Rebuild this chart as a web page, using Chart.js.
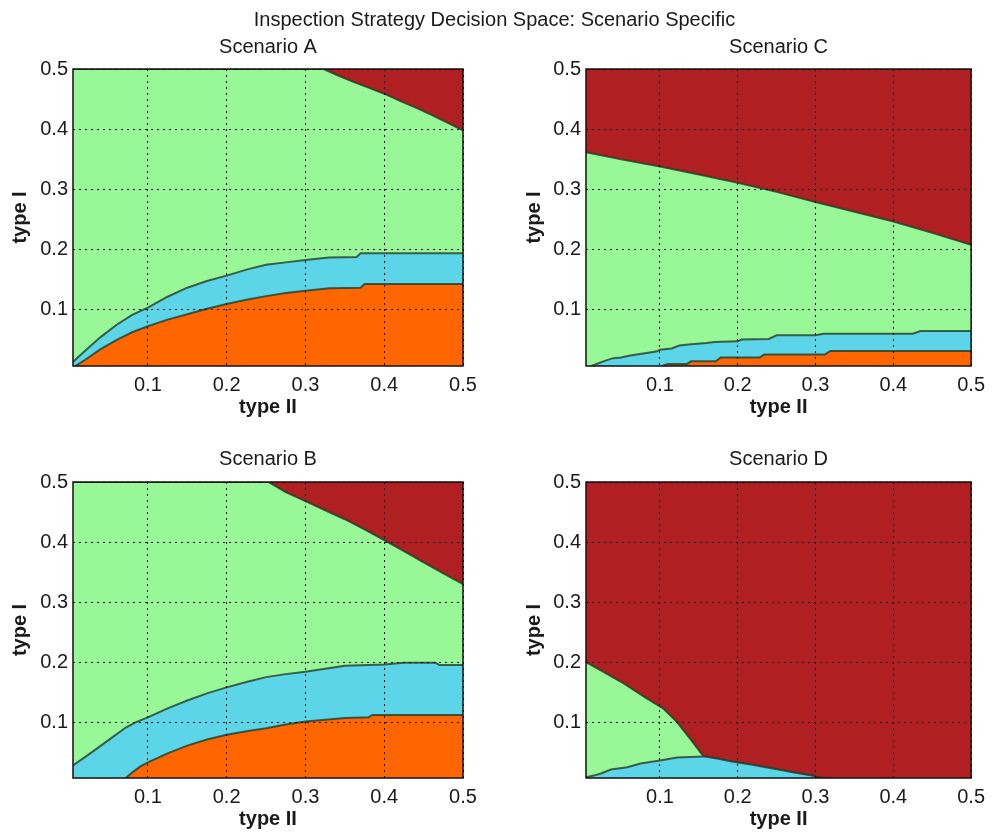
<!DOCTYPE html>
<html><head><meta charset="utf-8">
<script src="https://cdn.jsdelivr.net/npm/chart.js@4.4.1/dist/chart.umd.min.js"></script>
<style>
html,body{margin:0;padding:0;background:#fff;}
#wrap{position:relative;width:992px;height:833px;overflow:hidden;font-family:"Liberation Sans",Arial,sans-serif;}
canvas{position:absolute;}
#main{position:absolute;left:0;top:7px;width:989px;text-align:center;font-size:20px;line-height:24px;color:#1a1a1a;}
</style></head><body>
<div id="wrap">
<canvas id="cA" width="496" height="420" style="left:0;top:0"></canvas>
<canvas id="cC" width="496" height="420" style="left:496px;top:0"></canvas>
<canvas id="cB" width="496" height="420" style="left:0;top:413px"></canvas>
<canvas id="cD" width="496" height="420" style="left:496px;top:413px"></canvas>
<div id="main">Inspection Strategy Decision Space: Scenario Specific</div>
</div>
<script>
// ---- axis ticks ----
const X_TICKS = [0.1, 0.2, 0.3, 0.4, 0.5];
const Y_TICKS = [0.1, 0.2, 0.3, 0.4, 0.5];
const X_MIN = 0.005, X_MAX = 0.5, Y_MIN = 0.007, Y_MAX = 0.5;

// ---- Scenario A boundaries (upper edge of each region) ----
const A_GREEN_X = [0.005, 0.323, 0.34, 0.36, 0.38, 0.40, 0.42, 0.44, 0.46, 0.48, 0.50];
const A_GREEN_Y = [0.5, 0.5, 0.49, 0.479, 0.469, 0.459, 0.447, 0.436, 0.424, 0.411, 0.398];
const A_CYAN_X = [0.005, 0.01, 0.02, 0.04, 0.06, 0.08, 0.10, 0.125, 0.15, 0.175, 0.20, 0.225, 0.25, 0.275, 0.30, 0.33, 0.365, 0.37, 0.50];
const A_CYAN_Y = [0.014, 0.02, 0.032, 0.055, 0.075, 0.092, 0.104, 0.122, 0.137, 0.148, 0.157, 0.167, 0.175, 0.179, 0.183, 0.187, 0.188, 0.194, 0.194];
const A_ORANGE_X = [0.008, 0.02, 0.04, 0.06, 0.08, 0.10, 0.125, 0.15, 0.175, 0.20, 0.225, 0.25, 0.275, 0.30, 0.33, 0.37, 0.375, 0.50];
const A_ORANGE_Y = [0.007, 0.017, 0.035, 0.05, 0.063, 0.073, 0.084, 0.093, 0.102, 0.110, 0.117, 0.123, 0.128, 0.132, 0.136, 0.137, 0.143, 0.143];

// ---- Scenario B ----
const B_GREEN_X = [0.005, 0.253, 0.275, 0.30, 0.325, 0.35, 0.375, 0.40, 0.425, 0.45, 0.475, 0.50];
const B_GREEN_Y = [0.5, 0.5, 0.483, 0.468, 0.453, 0.438, 0.421, 0.403, 0.385, 0.366, 0.348, 0.33];
const B_CYAN_X = [0.005, 0.03, 0.05, 0.072, 0.085, 0.10, 0.125, 0.15, 0.175, 0.20, 0.225, 0.25, 0.275, 0.30, 0.325, 0.35, 0.40, 0.425, 0.465, 0.47, 0.50];
const B_CYAN_Y = [0.028, 0.051, 0.07, 0.091, 0.1, 0.108, 0.123, 0.136, 0.148, 0.158, 0.167, 0.175, 0.18, 0.184, 0.189, 0.194, 0.196, 0.199, 0.199, 0.195, 0.195];
const B_ORANGE_X = [0.072, 0.08, 0.09, 0.10, 0.125, 0.15, 0.175, 0.20, 0.225, 0.25, 0.275, 0.30, 0.325, 0.35, 0.38, 0.385, 0.50];
const B_ORANGE_Y = [0.007, 0.016, 0.026, 0.033, 0.048, 0.061, 0.071, 0.079, 0.085, 0.09, 0.096, 0.101, 0.104, 0.107, 0.108, 0.112, 0.112];

// ---- Scenario C ----
const C_GREEN_X = [0.005, 0.05, 0.10, 0.15, 0.20, 0.25, 0.30, 0.35, 0.40, 0.45, 0.50];
const C_GREEN_Y = [0.362, 0.35, 0.338, 0.325, 0.311, 0.296, 0.279, 0.263, 0.247, 0.228, 0.208];
const C_CYAN_X = [0.012, 0.022, 0.03, 0.04, 0.05, 0.06, 0.07, 0.085, 0.095, 0.10, 0.115, 0.125, 0.14, 0.16, 0.17, 0.20, 0.205, 0.24, 0.25, 0.30, 0.31, 0.425, 0.435, 0.50];
const C_CYAN_Y = [0.007, 0.012, 0.016, 0.02, 0.021, 0.024, 0.026, 0.029, 0.031, 0.034, 0.036, 0.041, 0.043, 0.045, 0.047, 0.048, 0.051, 0.052, 0.058, 0.058, 0.0605, 0.0605, 0.065, 0.065];
const C_ORANGE_X = [0.103, 0.11, 0.135, 0.14, 0.172, 0.178, 0.228, 0.234, 0.312, 0.319, 0.50];
const C_ORANGE_Y = [0.007, 0.0105, 0.0105, 0.015, 0.015, 0.021, 0.021, 0.026, 0.026, 0.032, 0.032];

// ---- Scenario D ----
const D_GREEN_X = [0.005, 0.0245, 0.054, 0.08, 0.105, 0.122, 0.139, 0.156, 0.175, 0.194, 0.215, 0.236, 0.257, 0.278, 0.295, 0.304, 0.312];
const D_GREEN_Y = [0.2, 0.186, 0.164, 0.142, 0.122, 0.1, 0.072, 0.043, 0.039, 0.034, 0.03, 0.025, 0.02, 0.015, 0.011, 0.008, 0.007];
const D_CYAN_X = [0.005, 0.015, 0.025, 0.037, 0.058, 0.075, 0.10, 0.122, 0.156, 0.175, 0.194, 0.215, 0.236, 0.257, 0.278, 0.295, 0.304, 0.312];
const D_CYAN_Y = [0.008, 0.011, 0.015, 0.021, 0.025, 0.031, 0.036, 0.041, 0.043, 0.039, 0.034, 0.03, 0.025, 0.02, 0.015, 0.011, 0.008, 0.007];
const D_ORANGE_X = [];
const D_ORANGE_Y = [];

// ---- styling ----
const COL_RED = '#B01F22', COL_GREEN = '#98F898', COL_CYAN = '#5DD5E8', COL_ORANGE = '#FF6600';
const EDGE = 'rgba(35,60,40,0.8)';
const FONT = '"Liberation Sans", Arial, sans-serif';
const TXT = '#1a1a1a';

const framePlugin = {
  id: 'frame',
  afterDraw(chart) {
    const {ctx, chartArea: a} = chart;
    ctx.save();
    ctx.strokeStyle = '#111';
    ctx.lineWidth = 1.5;
    ctx.strokeRect(a.left, a.top, a.right - a.left, a.bottom - a.top);
    ctx.restore();
  }
};

const pts = (X, Y) => X.map((x, i) => ({x, y: Y[i]}));

function region(data, color, edge) {
  return {data, backgroundColor: color, borderColor: edge ? EDGE : 'rgba(0,0,0,0)', borderWidth: edge ? 2 : 0,
    fill: 'start', clip: 0, pointRadius: 0, tension: 0};
}

function axisCommon(ticksArr, size, isX, c) {
  return {
    type: 'linear', z: 1,
    afterBuildTicks: s => { s.ticks = ticksArr.map(v => ({value: v})); },
    grid: {color: '#000', lineWidth: 1, drawTicks: false, z: 1, borderDash: [2, 4]},
    border: {display: false, dash: [2, 4]},
    ticks: {padding: isX ? 7 : 5, color: TXT, font: {family: FONT, size: 20}, maxRotation: 0,
      callback: v => v.toFixed(1)}
  };
}

function makeChart(id, c) {
  const x = axisCommon(X_TICKS, 20, true, c);
  x.min = X_MIN; x.max = X_MAX;
  x.afterFit = s => { s.height = c.xAxisH; };
  x.title = {display: true, text: 'type II', color: TXT,
    font: {family: FONT, size: 20, weight: 'bold', lineHeight: 1.2}, padding: {top: 0, bottom: c.xTitlePad}};
  const y = axisCommon(Y_TICKS, 20, false, c);
  y.min = Y_MIN; y.max = Y_MAX;
  y.afterFit = s => { s.width = c.yAxisW; };
  y.title = {display: true, text: 'type I', color: TXT,
    font: {family: FONT, size: 20, weight: 'bold', lineHeight: 1.2}, padding: {top: c.yTitlePad, bottom: 0}};

  new Chart(document.getElementById(id), {
    type: 'line',
    data: {datasets: [
      region(pts(c.ox, c.oy), COL_ORANGE, true),
      region(pts(c.cx, c.cy), COL_CYAN, true),
      region(pts(c.gx, c.gy), COL_GREEN, true),
      region(pts([X_MIN, X_MAX], [Y_MAX, Y_MAX]), COL_RED, false)
    ]},
    options: {
      responsive: false, animation: false, devicePixelRatio: 1,
      layout: {padding: {left: 0, right: c.padRight, top: 0, bottom: 0}},
      plugins: {
        legend: {display: false}, tooltip: {enabled: false},
        title: {display: true, text: c.title, fullSize: false, color: TXT,
          font: {family: FONT, size: 20, weight: 'normal', lineHeight: 1.2},
          padding: {top: c.titleTop, bottom: c.titleBottom}}
      },
      scales: {x, y}
    },
    plugins: [framePlugin]
  });
}

makeChart('cA', {title: 'Scenario A', gx: A_GREEN_X, gy: A_GREEN_Y, cx: A_CYAN_X, cy: A_CYAN_Y, ox: A_ORANGE_X, oy: A_ORANGE_Y,
  padRight: 33, yAxisW: 73, yTitlePad: 8, xAxisH: 54, xTitlePad: 1, titleTop: 35, titleBottom: 10});
makeChart('cC', {title: 'Scenario C', gx: C_GREEN_X, gy: C_GREEN_Y, cx: C_CYAN_X, cy: C_CYAN_Y, ox: C_ORANGE_X, oy: C_ORANGE_Y,
  padRight: 19, yAxisW: 90, yTitlePad: 26, xAxisH: 54, xTitlePad: 1, titleTop: 35, titleBottom: 10});
makeChart('cB', {title: 'Scenario B', gx: B_GREEN_X, gy: B_GREEN_Y, cx: B_CYAN_X, cy: B_CYAN_Y, ox: B_ORANGE_X, oy: B_ORANGE_Y,
  padRight: 33, yAxisW: 73, yTitlePad: 8, xAxisH: 55, xTitlePad: 2, titleTop: 34, titleBottom: 11});
makeChart('cD', {title: 'Scenario D', gx: D_GREEN_X, gy: D_GREEN_Y, cx: D_CYAN_X, cy: D_CYAN_Y, ox: D_ORANGE_X, oy: D_ORANGE_Y,
  padRight: 19, yAxisW: 90, yTitlePad: 26, xAxisH: 55, xTitlePad: 2, titleTop: 34, titleBottom: 11});
</script>
</body></html>
